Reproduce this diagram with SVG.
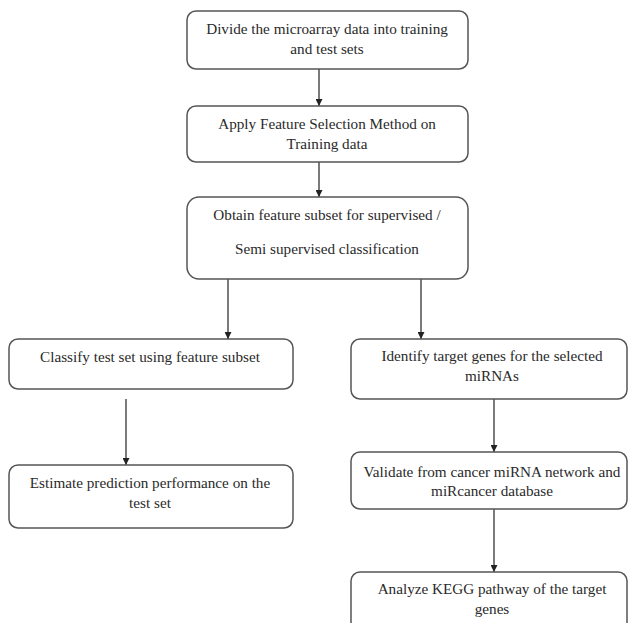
<svg xmlns="http://www.w3.org/2000/svg" width="628" height="623" viewBox="0 0 628 623">
<defs>
<marker id="ah" viewBox="0 0 10 10" refX="10" refY="5" markerWidth="7" markerHeight="7" markerUnits="userSpaceOnUse" orient="auto">
<path d="M0,0 L10,5 L0,10 z" fill="#222"/>
</marker>
<style>
.box{fill:#fff;stroke:#555;stroke-width:1.5}
.t{font-size:15.2px;fill:#2a2a2a;text-anchor:middle}
.c{stroke:#333;stroke-width:1.3;fill:none;marker-end:url(#ah)}
</style>
</defs>
<rect width="628" height="623" fill="#fff"/>
<g id="connectors">
<line class="c" x1="319" y1="69" x2="319" y2="106"/>
<line class="c" x1="319" y1="162" x2="319" y2="197"/>
<line class="c" x1="228" y1="279" x2="228" y2="339"/>
<line class="c" x1="421" y1="279" x2="421" y2="339"/>
<line class="c" x1="126" y1="399" x2="126" y2="465"/>
<line class="c" x1="494" y1="399" x2="494" y2="452"/>
<line class="c" x1="494" y1="509" x2="494" y2="572"/>
</g>
<g font-family="'Liberation Serif', 'Times New Roman', serif">
<g id="n1">
<rect class="box" x="187" y="11" width="281" height="58" rx="9"/>
<text class="t" x="327" y="34">Divide the microarray data into training</text>
<text class="t" x="327" y="54">and test sets</text>
</g>
<g id="n2">
<rect class="box" x="187" y="106" width="281" height="56" rx="9"/>
<text class="t" x="327" y="129">Apply Feature Selection Method on</text>
<text class="t" x="327" y="149">Training data</text>
</g>
<g id="n3">
<rect class="box" x="187" y="197" width="281" height="82" rx="12"/>
<text class="t" x="327" y="220">Obtain feature subset for supervised /</text>
<text class="t" x="327" y="254">Semi supervised classification</text>
</g>
<g id="n4">
<rect class="box" x="9" y="339" width="284" height="50" rx="9"/>
<text class="t" x="150" y="362">Classify test set using feature subset</text>
</g>
<g id="n5">
<rect class="box" x="9" y="465" width="284" height="63" rx="9"/>
<text class="t" x="150" y="488">Estimate prediction performance on the</text>
<text class="t" x="150" y="508">test set</text>
</g>
<g id="n6">
<rect class="box" x="351" y="339" width="276" height="60" rx="9"/>
<text class="t" x="492" y="361">Identify target genes for the selected</text>
<text class="t" x="492" y="381">miRNAs</text>
</g>
<g id="n7">
<rect class="box" x="351" y="452" width="276" height="57" rx="9"/>
<text class="t" x="492" y="477">Validate from cancer miRNA network and</text>
<text class="t" x="492" y="496">miRcancer database</text>
</g>
<g id="n8">
<rect class="box" x="351" y="572" width="276" height="70" rx="9"/>
<text class="t" x="492" y="594">Analyze KEGG pathway of the target</text>
<text class="t" x="492" y="614">genes</text>
</g>
</g>
</svg>
